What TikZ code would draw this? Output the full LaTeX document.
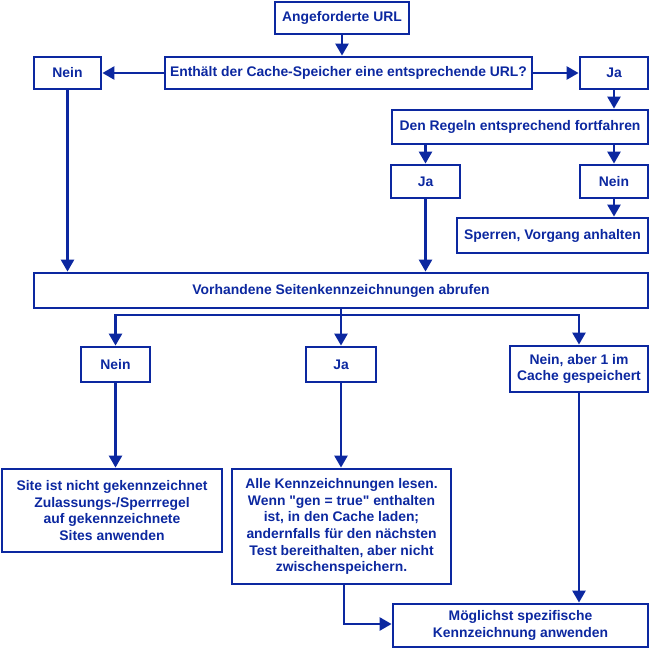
\documentclass[tikz,border=0pt]{standalone}
\usepackage{fontspec}
\setmainfont{Liberation Sans}[BoldFont={Liberation Sans Bold}, Ligatures=TeXOff]
\usepackage{tikz}
\usetikzlibrary{arrows.meta}
\definecolor{flowblue}{RGB}{12,40,160}
\tikzstyle{block} = [draw=flowblue, line width=2.8pt, rectangle, inner sep=0pt, align=center, text=flowblue, font=\bfseries\fontsize{13.9}{16.7}\selectfont]
\tikzstyle{branch} = [coordinate]
\tikzstyle{line} = [draw=flowblue, line width=2.5pt]

\begin{document}
\begin{tikzpicture}[x=1pt, y=-1pt, >={Triangle[length=12pt,width=13pt]}]
		\useasboundingbox (0,0) rectangle (651,649);
		% Anfrage und Cache-Abfrage
		\node [block, minimum width=134pt, minimum height=32pt] (url) at (342,18) {Angeforderte URL};
		\node [block, minimum width=367pt, minimum height=32pt] (cache) at (348.5,73) {Enthält der Cache-Speicher eine entsprechende URL?};
		\node [block, minimum width=67pt, minimum height=32pt] (nein1) at (67.5,73) {Nein};
		\node [block, minimum width=68pt, minimum height=32pt] (ja1) at (614,73) {Ja};
		\node [block, minimum width=256pt, minimum height=34pt] (regeln) at (520,127) {Den Regeln entsprechend fortfahren};
		\node [block, minimum width=69pt, minimum height=33pt] (ja2) at (425.5,181.5) {Ja};
		\node [block, minimum width=68pt, minimum height=33pt] (nein2) at (614,181.5) {Nein};
		\node [block, minimum width=191pt, minimum height=35pt] (sperren) at (552.5,235.5) {Sperren, Vorgang anhalten};
		% Kennzeichnungen
		\node [block, minimum width=614pt, minimum height=35pt] (abruf) at (341,290.5) {Vorhandene Seitenkennzeichnungen abrufen};
		\node [branch] (split) at (341,315) {};
		\node [block, minimum width=69pt, minimum height=35pt] (nein3) at (115.5,364.5) {Nein};
		\node [block, minimum width=70pt, minimum height=35pt] (ja3) at (341,364.5) {Ja};
		\node [block, minimum width=138pt, minimum height=46pt] (neinab) at (579,369) {Nein, aber 1 im\\Cache gespeichert};
		\node [block, minimum width=220pt, minimum height=83pt] (site) at (112,510.5) {Site ist nicht gekennzeichnet\\Zulassungs-/Sperrregel\\auf gekennzeichnete\\Sites anwenden};
		\node [block, minimum width=219pt, minimum height=115pt] (alle) at (341.5,526.5) {Alle Kennzeichnungen lesen.\\Wenn "gen = true" enthalten\\ist, in den Cache laden;\\andernfalls für den nächsten\\Test bereithalten, aber nicht\\zwischenspeichern.};
		\node [block, minimum width=255pt, minimum height=43pt] (moegl) at (520.5,625.5) {Möglichst spezifische\\Kennzeichnung anwenden};
		\node [branch] (knick) at (344,624) {};

		\draw [->, line] (url) -- (url |- cache.north);
		\draw [->, line] (cache) -- (nein1);
		\draw [->, line] (cache) -- (ja1);
		\draw [->, line] (ja1) -- (ja1 |- regeln.north);
		\draw [->, line] (regeln.south -| ja2) -- (ja2);
		\draw [->, line] (regeln.south -| nein2) -- (nein2);
		\draw [->, line] (nein2) -- (nein2 |- sperren.north);
		\draw [->, line] (nein1) -- (nein1 |- abruf.north);
		\draw [->, line] (ja2) -- (ja2 |- abruf.north);
		\draw [-, line] (abruf) -- (split);
		\draw [->, line] (split) -| (nein3);
		\draw [->, line] (split) -- (ja3);
		\draw [->, line] (split) -| (neinab);
		\draw [->, line] (nein3) -- (nein3 |- site.north);
		\draw [->, line] (ja3) -- (ja3 |- alle.north);
		\draw [->, line] (neinab) -- (neinab |- moegl.north);
		\draw [->, line] (alle.south -| knick) -- (knick) -- (knick -| moegl.west);
	\end{tikzpicture}
\end{document}
